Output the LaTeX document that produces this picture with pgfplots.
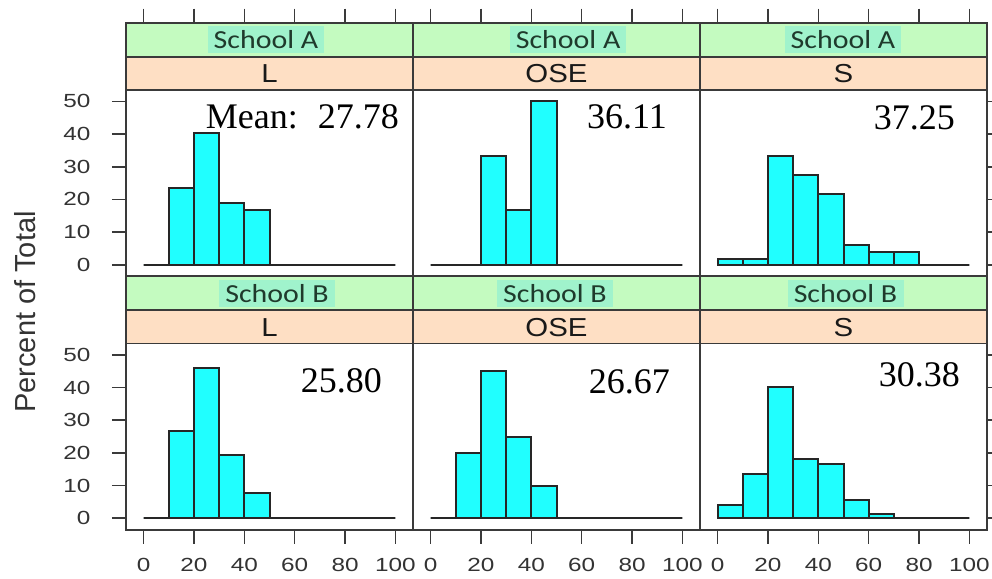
\documentclass[border=0pt]{standalone}
\usepackage{pgfplots}
\usepackage{pgfplotstable}
\pgfplotsset{compat=1.18}
\usepackage{fontspec}
\setmainfont{Liberation Sans}
\newfontfamily\timesf{Liberation Serif}
\newfontfamily\calibri{Carlito}
\definecolor{stripgreen}{HTML}{C4FBC0}
\definecolor{striporange}{HTML}{FEDFC4}
\definecolor{hl}{HTML}{A0F3CC}
\definecolor{barcyan}{HTML}{20FFFF}
\definecolor{framec}{HTML}{3A3A3A}
\definecolor{hltext}{HTML}{1F3A2C}

\pgfplotstableread{
x y
0 0
10 23.6
20 40.2
30 19.0
40 16.7
50 0
60 0
70 0
80 0
90 0
100 0
}\tabAL
\pgfplotstableread{
x y
0 0
10 0
20 33.3
30 16.7
40 50.0
50 0
60 0
70 0
80 0
90 0
100 0
}\tabAO
\pgfplotstableread{
x y
0 1.8
10 1.8
20 33.3
30 27.4
40 21.6
50 5.9
60 3.9
70 3.9
80 0
90 0
100 0
}\tabAS
\pgfplotstableread{
x y
0 0
10 26.8
20 46.1
30 19.3
40 7.6
50 0
60 0
70 0
80 0
90 0
100 0
}\tabBL
\pgfplotstableread{
x y
0 0
10 20.0
20 45.0
30 25.0
40 10.0
50 0
60 0
70 0
80 0
90 0
100 0
}\tabBO
\pgfplotstableread{
x y
0 4.0
10 13.7
20 40.3
30 18.0
40 16.7
50 5.6
60 1.3
70 0
80 0
90 0
100 0
}\tabBS

\newcommand{\strips}[3]{%
  \fill[stripgreen] (axis cs:-7,63.7) rectangle (axis cs:107,74.1);
  \fill[striporange] (axis cs:-7,53.5) rectangle (axis cs:107,63.7);
  \draw[framec, line width=1.8bp] (axis cs:-7,53.5) -- (axis cs:107,53.5);
  \draw[framec, line width=1.8bp] (axis cs:-7,63.7) -- (axis cs:107,63.7);
  \node[fill=hl, minimum width=116bp, minimum height=27bp, inner sep=0pt, text=hltext,
        font=\calibri\fontsize{26bp}{28bp}\selectfont] at (axis cs:#1,68.9) {\scalebox{1.15}[1]{#2}};
  \node[text=black!90, inner sep=0pt, font=\fontsize{26bp}{28bp}\selectfont] at (axis cs:50,58.4) {\scalebox{1.13}[1]{#3}};
}

\pgfplotsset{
  panel/.style={
    scale only axis, width=287bp, height=253.5bp,
    xmin=-7, xmax=107, ymin=-3.5, ymax=74.1,
    axis line style={framec, line width=1.8bp},
    xtick={0,20,...,100}, ytick={0,10,...,50},
    tick align=outside, major tick length=14bp,
    tick style={framec, line width=1.6bp},
    every tick label/.append style={font=\fontsize{19bp}{20bp}\selectfont, text=black!80},
    xticklabel style={yshift=-11bp},
    yticklabel style={xshift=-18bp},
    /pgf/number format/assume math mode=true,
    xticklabel={\scalebox{1.28}[1]{\pgfmathprintnumber{\tick}}},
    yticklabel={\scalebox{1.28}[1]{\pgfmathprintnumber{\tick}}},
    clip=false, axis on top,
    anchor=south west,
  },
  bars/.style={ybar interval, fill=barcyan, draw=black!85, line width=2bp},
  toprow/.style={xtick pos=right, xticklabels={}},
  botrow/.style={xtick pos=left},
  leftcol/.style={ytick pos=left},
  midcol/.style={ytick=\empty},
  rightcol/.style={ytick pos=right, yticklabels={}},
}

\begin{document}
\begin{tikzpicture}
\path[use as bounding box] (0,0) rectangle (992bp,579bp);

% top row
\begin{axis}[panel, toprow, leftcol, at={(126bp,302.8bp)}]
\strips{48.6}{School A}{L}
\addplot[bars] table {\tabAL};
\end{axis}
\begin{axis}[panel, toprow, midcol, at={(413bp,302.8bp)}]
\strips{54.6}{School A}{OSE}
\addplot[bars] table {\tabAO};
\end{axis}
\begin{axis}[panel, toprow, rightcol, at={(700bp,302.8bp)}]
\strips{49.8}{School A}{S}
\addplot[bars] table {\tabAS};
\end{axis}

% bottom row
\begin{axis}[panel, botrow, leftcol, at={(126bp,49.3bp)}]
\strips{53}{School B}{L}
\addplot[bars] table {\tabBL};
\end{axis}
\begin{axis}[panel, botrow, midcol, at={(413bp,49.3bp)}]
\strips{49.4}{School B}{OSE}
\addplot[bars] table {\tabBO};
\end{axis}
\begin{axis}[panel, botrow, rightcol, at={(700bp,49.3bp)}]
\strips{50.8}{School B}{S}
\addplot[bars] table {\tabBS};
\end{axis}

\node[rotate=90, text=black!80, font=\fontsize{29bp}{31bp}\selectfont] at (25bp,267bp) {Percent of Total};

\begin{scope}[every node/.style={anchor=base east, inner sep=0pt, font=\timesf\fontsize{36bp}{38bp}\selectfont}]
\node at (399bp,450.7bp) {Mean:\hspace{20bp}27.78};
\node at (667bp,450.7bp) {36.11};
\node at (955bp,449bp) {37.25};
\node at (382bp,186.3bp) {25.80};
\node at (670bp,185.7bp) {26.67};
\node at (960bp,192.3bp) {30.38};
\end{scope}
\end{tikzpicture}
\end{document}
